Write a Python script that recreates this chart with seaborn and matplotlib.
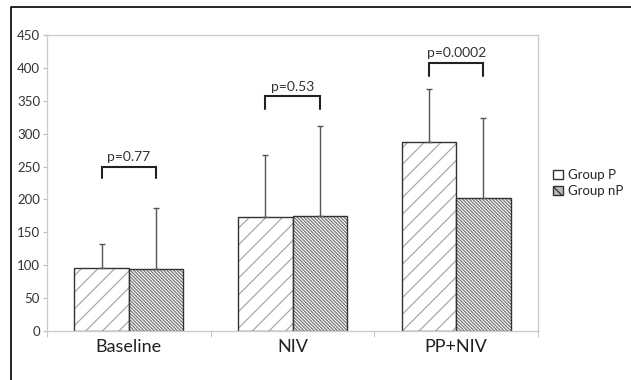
import numpy as np
import pandas as pd
import seaborn as sns
from matplotlib import pyplot as plt
from matplotlib.lines import Line2D
from matplotlib.patches import Patch

# values
phases = ['Baseline', 'NIV', 'PP+NIV']
groups = ['Group P', 'Group nP']
mean_p = [96, 174, 288]
mean_np = [95, 175, 202]
sd_p = [36, 94, 80]
sd_np = [92, 136, 122]
p_labels = ['p=0.77', 'p=0.53', 'p=0.0002']
bracket_top = [250, 357, 408]
bracket_leg = [232, 337, 387]

df = pd.DataFrame({
    'phase': phases * 2,
    'group': [groups[0]] * 3 + [groups[1]] * 3,
    'value': mean_p + mean_np,
})
sds = {groups[0]: sd_p, groups[1]: sd_np}

sns.set_style('white')
plt.rcParams['font.family'] = ['Lato', 'DejaVu Sans']
plt.rcParams['hatch.linewidth'] = 0.9

fig = plt.figure(figsize=(6.31, 3.8), dpi=100)
ax = fig.add_axes([47 / 631, 49 / 380, 491 / 631, 296 / 380])

sns.barplot(data=df, x='phase', y='value', hue='group', order=phases, hue_order=groups,
            width=0.667, errorbar=None, ax=ax, legend=False,
            palette=['white', 'white'], edgecolor='#333333', linewidth=1.0)

hatches = ['//', '\\' * 10]
hatch_cols = ['#aaaaaa', '#777777']
for cont, g, h, hc in zip(ax.containers, groups, hatches, hatch_cols):
    xs, ys = [], []
    for bar in cont:
        bar.set_hatch(h)
        bar._hatch_color = plt.matplotlib.colors.to_rgba(hc)
        xs.append(bar.get_x() + bar.get_width() / 2)
        ys.append(bar.get_height())
    ax.errorbar(xs, ys, yerr=[np.zeros(len(ys)), sds[g]], fmt='none',
                ecolor='#555555', elinewidth=1.0, capsize=2, capthick=1.0, zorder=1)

# significance brackets
bw = ax.containers[0][0].get_width()
for i, (lab, top, leg) in enumerate(zip(p_labels, bracket_top, bracket_leg)):
    x0, x1 = i - bw / 2, i + bw / 2
    ax.plot([x0, x0, x1, x1], [leg, top, top, leg], color='#222222', lw=1.5, solid_joinstyle='miter')
    ax.text(i, top + 5, lab, ha='center', va='bottom', fontsize=10, color='#333333')

ax.set_ylim(0, 450)
ax.set_xlim(-0.5, 2.5)
ax.set_yticks(range(0, 451, 50))
ax.set_xlabel('')
ax.set_ylabel('')
ax.tick_params(axis='y', labelsize=9.5, labelcolor='#333333', length=3, color='#bbbbbb', pad=2, left=True)
ax.tick_params(axis='x', which='major', labelsize=13, labelcolor='#222222', length=0, pad=6)
ax.set_xticks([-0.5, 0.5, 1.5, 2.5], minor=True)
ax.tick_params(axis='x', which='minor', length=4, color='#bbbbbb', bottom=True)
for s in ax.spines.values():
    s.set_color('#cccccc')
    s.set_linewidth(1.0)

handles = [Patch(facecolor='white', edgecolor='#333333', label=groups[0]),
           Patch(facecolor='#bbbbbb', edgecolor='#333333', hatch='\\\\\\', label=groups[1])]
ax.legend(handles=handles, loc='center left', bbox_to_anchor=(1.02, 0.5), frameon=False,
          fontsize=9.5, handlelength=0.75, handleheight=0.75, handletextpad=0.35,
          labelspacing=0.3, borderaxespad=0)

# outer frame of the figure panel
fig.add_artist(Line2D([11 / 631, 11 / 631, 1.0], [0.0, 1 - 7 / 380, 1 - 7 / 380],
                      transform=fig.transFigure, color='black', lw=1.2))

fig.savefig('out.png', dpi=100)
